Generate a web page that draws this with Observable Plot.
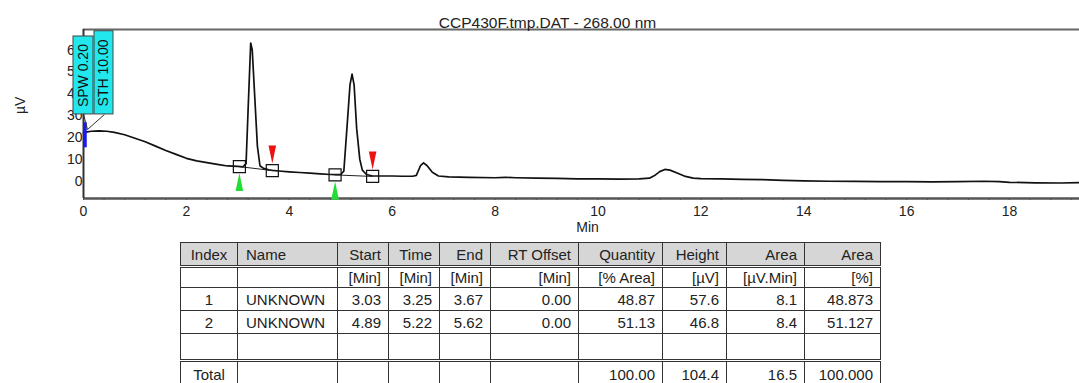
<!DOCTYPE html>
<html>
<head>
<meta charset="utf-8">
<script src="https://cdn.jsdelivr.net/npm/d3@7"></script>
<script src="https://cdn.jsdelivr.net/npm/@observablehq/plot@0.6"></script>
<style>
  html, body { margin: 0; padding: 0; background: #fff; }
  body { width: 1079px; height: 383px; overflow: hidden; position: relative; font-family: "Liberation Sans", Arial, sans-serif; }
  #chart { position: absolute; left: 0; top: 0; }
  table { position: absolute; left: 180px; top: 242px; border-collapse: collapse; table-layout: fixed; font-size: 15px; color: #222; }
  td { border: 1px solid #333; padding: 0 7px 0 4px; text-align: right; white-space: nowrap; overflow: hidden; }
  tr { height: 23px; }
  tr.hdr td { background: #d6d6d6; border-bottom: 3px double #333; height: 22px; }
  tr.units { height: 21px; }
  tr.blank td { border-bottom: 3px double #333; height: 25px; }
  tr.total { height: 26px; }
  td.c { text-align: center; padding: 0; }
  td.l { text-align: left; padding-left: 8px; }
</style>
</head>
<body>
<div id="chart"></div>
<table id="tbl"></table>
<script>
// ---- chart data ----
const title = "CCP430F.tmp.DAT - 268.00 nm";
const xLabel = "Min";
const yLabel = "µV";
const xTicks = [0, 2, 4, 6, 8, 10, 12, 14, 16, 18];
const yTicks = [0, 10, 20, 30, 40, 50, 60];

const traceTime = [0.00,0.05,0.15,0.30,0.45,0.60,0.80,1.00,1.20,1.40,1.60,1.80,2.00,2.20,2.40,2.60,2.80,3.00,3.10,3.16,3.20,3.25,3.28,3.33,3.38,3.43,3.50,3.60,3.67,3.80,4.00,4.20,4.40,4.60,4.80,4.89,5.00,5.06,5.12,5.18,5.22,5.26,5.31,5.37,5.42,5.50,5.62,5.80,6.00,6.20,6.40,6.47,6.55,6.61,6.68,6.78,6.90,7.10,7.50,8.00,8.20,8.40,8.80,9.20,9.60,10.00,10.40,10.80,11.00,11.10,11.20,11.30,11.40,11.55,11.70,11.85,12.00,12.40,12.80,13.20,13.60,14.00,14.50,15.00,15.50,16.00,16.50,17.00,17.50,17.80,18.00,18.50,19.00,19.40];
const traceUV   = [22.0,22.4,22.8,23.0,22.8,22.3,21.2,19.6,18.0,16.0,14.0,12.2,10.4,9.2,8.4,7.6,6.9,6.7,6.5,8.0,33.0,63.2,60.0,38.0,16.0,7.0,5.8,5.1,4.9,4.6,4.2,3.9,3.6,3.3,3.0,2.9,3.0,4.5,24.0,44.0,49.0,44.0,24.0,10.0,5.0,3.0,2.3,2.3,2.3,2.2,2.2,2.6,7.0,8.3,7.0,4.0,2.3,1.9,1.7,1.5,1.7,1.5,1.3,1.2,1.0,1.0,0.9,1.0,1.3,2.5,4.3,5.3,5.0,3.6,2.1,1.3,1.1,1.0,0.8,0.6,0.3,0.1,-0.1,-0.2,-0.3,-0.3,-0.4,-0.3,-0.1,-0.3,-0.6,-0.8,-0.9,-0.7];

const peakIndex   = [1, 2];
const peakName    = ["UNKNOWN", "UNKNOWN"];
const peakStart   = [3.03, 4.89];
const peakTime    = [3.25, 5.22];
const peakEnd     = [3.67, 5.62];
const startUV     = [6.6, 2.8];
const endUV       = [4.8, 2.1];
const rtOffset    = ["0.00", "0.00"];
const quantity    = ["48.87", "51.13"];
const heightUV    = ["57.6", "46.8"];
const areaUVMin   = ["8.1", "8.4"];
const areaPct     = ["48.873", "51.127"];
const totals      = {quantity: "100.00", height: "104.4", area: "16.5", areaPct: "100.000"};

const eventNames  = ["SPW 0.20", "STH 10.00"];
const eventTime   = 0;
const eventRange  = [15.2, 26.7]; // blue marker span on the y scale

const tableHeader = ["Index", "Name", "Start", "Time", "End", "RT Offset", "Quantity", "Height", "Area", "Area"];
const tableUnits  = ["", "", "[Min]", "[Min]", "[Min]", "[Min]", "[% Area]", "[µV]", "[µV.Min]", "[%]"];

// ---- build ----
const trace = traceTime.map((t, i) => ({t, v: traceUV[i]}));
const peaks = peakIndex.map((k, i) => ({k, s: peakStart[i], e: peakEnd[i], sv: startUV[i], ev: endUV[i]}));

const xMax = 19.36;
const mpp = xMax / (1079 - 83); // minutes per pixel (layout helper)

const triUp = {draw(ctx) { ctx.moveTo(0, -9); ctx.lineTo(3.8, 9); ctx.lineTo(-3.8, 9); ctx.closePath(); }};
const triDown = {draw(ctx) { ctx.moveTo(0, 9); ctx.lineTo(3.8, -9); ctx.lineTo(-3.8, -9); ctx.closePath(); }};

const labelBoxes = [
  {x1: -10 * mpp, x2: 10 * mpp, y1: 30.5, y2: 66.2, tx: 0, ty: 48.3, text: eventNames[0], lx: 0, ly: 30.5},
  {x1: 11 * mpp, x2: 30 * mpp, y1: 30.5, y2: 68.6, tx: 20.5 * mpp, ty: 49.5, text: eventNames[1], lx: 21 * mpp, ly: 30.5}
];

const chart = Plot.plot({
  width: 1079,
  height: 240,
  marginLeft: 83,
  marginRight: 0,
  marginTop: 29,
  marginBottom: 42,
  style: {fontFamily: "'Liberation Sans', Arial, sans-serif", fontSize: "14px", color: "#222", background: "white", overflow: "visible"},
  x: {domain: [0, xMax]},
  y: {domain: [-8, 69.4]},
  marks: [
    Plot.axisX({ticks: xTicks, tickSize: 0, tickPadding: 8, label: null}),
    Plot.axisX({ticks: d3.range(0, 19.3, 0.4), tickSize: 2, tickFormat: () => "", label: null, stroke: "#444"}),
    Plot.axisY({ticks: yTicks, tickSize: 0, tickPadding: 1, label: null}),
    Plot.ruleY([69.4], {stroke: "#666", strokeWidth: 2}),
    Plot.ruleY([-8], {stroke: "#555", strokeWidth: 2.5}),
    Plot.ruleX([0], {stroke: "#333", strokeWidth: 2}),
    Plot.line(trace, {x: "t", y: "v", stroke: "#111", strokeWidth: 1.7}),
    Plot.link(peaks, {x1: "s", y1: "sv", x2: "e", y2: "ev", stroke: "#222", strokeWidth: 1}),
    Plot.dot(peaks, {x: "s", y: "sv", symbol: "square", r: 6.8, stroke: "#111", strokeWidth: 1.2, fill: "none"}),
    Plot.dot(peaks, {x: "e", y: "ev", symbol: "square", r: 6.8, stroke: "#111", strokeWidth: 1.2, fill: "none"}),
    Plot.dot(peaks, {x: "s", y: "sv", symbol: triUp, dy: 15.5, fill: "#22dd33", stroke: "none"}),
    Plot.dot(peaks, {x: "e", y: "ev", symbol: triDown, dy: -16, fill: "#ee1111", stroke: "none"}),
    Plot.ruleX([eventTime], {y1: eventRange[0], y2: eventRange[1], stroke: "#1a1aee", strokeWidth: 3.5, dx: 1.5}),
    Plot.link(labelBoxes, {x1: "lx", y1: "ly", x2: () => 4 * mpp, y2: () => 23.6, stroke: "#333", strokeWidth: 1}),
    Plot.rect(labelBoxes, {x1: "x1", x2: "x2", y1: "y1", y2: "y2", fill: "#22e8ee", stroke: "#444", strokeWidth: 1}),
    Plot.text(labelBoxes, {x: "tx", y: "ty", text: "text", rotate: -90, fontSize: 14, fill: "#111"}),
    Plot.text([yLabel], {frameAnchor: "left", dx: -63, rotate: -90, fontSize: 14}),
    Plot.text([xLabel], {frameAnchor: "bottom", dy: 33, dx: 6, fontSize: 14}),
    Plot.text([title], {frameAnchor: "top", dy: -13, dx: -34, fontSize: 15.5})
  ]
});
document.getElementById("chart").appendChild(chart);

// ---- table ----
const widths = [57, 100, 51, 51, 51, 88, 84, 64, 78, 76];
const tbl = document.getElementById("tbl");
const cg = document.createElement("colgroup");
widths.forEach(w => { const c = document.createElement("col"); c.style.width = w + "px"; cg.appendChild(c); });
tbl.appendChild(cg);
function addRow(cells, cls, aligns) {
  const tr = document.createElement("tr");
  if (cls) tr.className = cls;
  cells.forEach((v, i) => {
    const td = document.createElement("td");
    td.textContent = v;
    if (aligns && aligns[i]) td.className = aligns[i];
    tr.appendChild(td);
  });
  tbl.appendChild(tr);
}
const al = ["c", "l"];
addRow(tableHeader, "hdr", al);
addRow(tableUnits, "units", al);
peakIndex.forEach((k, i) => addRow([String(k), peakName[i], peakStart[i].toFixed(2), peakTime[i].toFixed(2), peakEnd[i].toFixed(2), rtOffset[i], quantity[i], heightUV[i], areaUVMin[i], areaPct[i]], "", al));
addRow(["", "", "", "", "", "", "", "", "", ""], "blank", al);
addRow(["Total", "", "", "", "", "", totals.quantity, totals.height, totals.area, totals.areaPct], "total", al);
</script>
</body>
</html>
